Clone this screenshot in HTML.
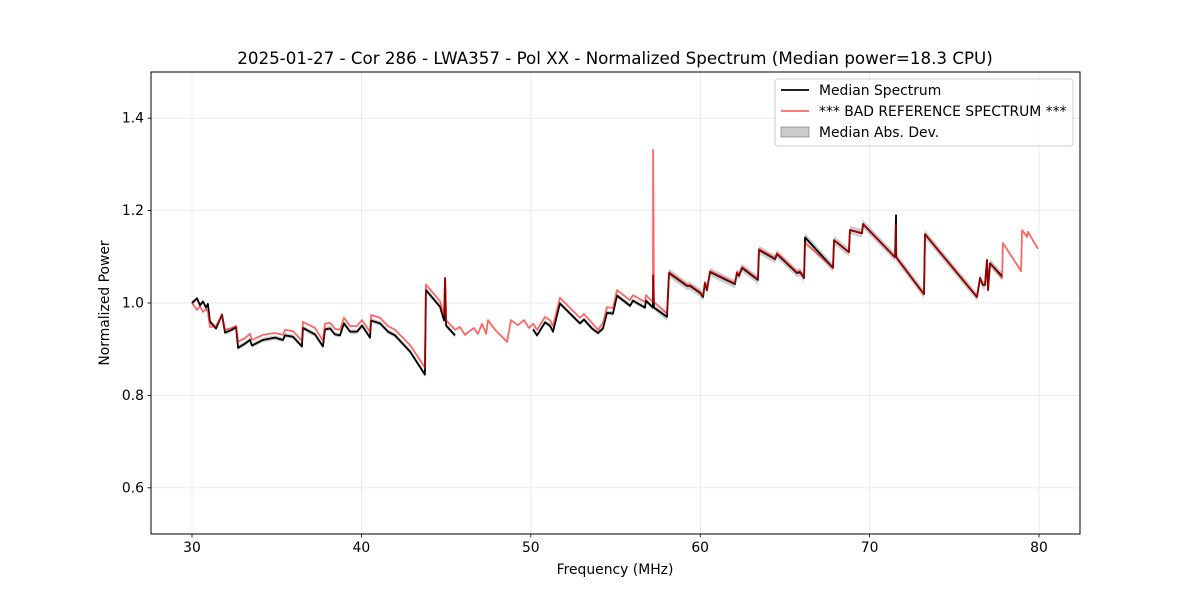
<!DOCTYPE html>
<html><head><meta charset="utf-8"><style>
body{margin:0;background:#fff;}
svg{display:block;font-family:"DejaVu Sans","Liberation Sans",sans-serif;}
</style></head><body>
<svg id="chart" width="1200" height="600" viewBox="0 0 1200 600" xmlns="http://www.w3.org/2000/svg">
<rect width="1200" height="600" fill="#fff"/>
<text x="615" y="64" font-size="16.7" text-anchor="middle" fill="#000">2025-01-27 - Cor 286 - LWA357 - Pol XX - Normalized Spectrum (Median power=18.3 CPU)</text>
<g id="grid"></g>
<g id="series"></g>
<rect x="151" y="72" width="929" height="462" fill="none" stroke="#000" stroke-width="1"/>
<g id="ticks"></g>
<text x="615" y="574" font-size="13.9" text-anchor="middle">Frequency (MHz)</text>
<text transform="translate(109,303) rotate(-90)" font-size="13.9" text-anchor="middle">Normalized Power</text>
<g>
<rect x="775" y="79" width="298" height="67" rx="3" fill="#fff" fill-opacity="0.85" stroke="#ccc"/>
<line x1="781" y1="90" x2="809" y2="90" stroke="#000" stroke-width="1.8"/>
<text x="819" y="95" font-size="13.9">Median Spectrum</text>
<line x1="781" y1="111" x2="809" y2="111" stroke="#f00" stroke-opacity="0.6" stroke-width="1.8"/>
<text x="819" y="116" font-size="13.9">*** BAD REFERENCE SPECTRUM ***</text>
<rect x="781" y="127" width="28" height="10" fill="#000" fill-opacity="0.2" stroke="#000" stroke-opacity="0.3"/>
<text x="819" y="137" font-size="13.9">Median Abs. Dev.</text>
</g>
</svg>
<script>
const xTicks = [30,40,50,60,70,80];
const yTicks = [0.6,0.8,1.0,1.2,1.4];
const yTickLabels = ["0.6","0.8","1.0","1.2","1.4"];
const freq = [30.00,30.30,30.47,30.65,30.83,30.94,31.06,31.42,31.77,31.95,
32.36,32.60,32.72,33.13,33.42,33.54,34.19,34.90,35.37,35.49,
35.96,36.49,36.55,37.26,37.73,37.85,38.15,38.44,38.74,38.97,
39.33,39.74,40.04,40.51,40.57,41.10,41.57,41.98,42.87,43.75,
43.81,44.64,44.88,44.94,45.00,45.53,45.82,46.12,46.41,46.65,
46.88,47.12,47.36,47.47,47.89,48.60,48.83,49.24,49.60,49.89,
50.13,50.37,50.84,51.13,51.31,51.72,52.90,53.14,53.61,53.97,
54.26,54.50,54.85,55.09,55.86,56.03,56.74,56.80,57.21,57.22,
57.27,58.04,58.16,59.22,59.40,59.99,60.17,60.28,60.40,60.58,
62.05,62.17,62.29,62.47,63.41,63.47,64.42,64.53,65.71,65.89,
66.13,66.19,67.84,67.90,68.78,68.84,69.55,69.61,71.50,71.56,
71.57,73.21,73.27,76.34,76.52,76.69,76.81,76.93,76.99,77.11,
77.82,77.87,78.94,79.00,79.29,79.35,79.94];
const refSpectrum = [1.000,0.985,0.993,0.981,0.987,0.981,0.948,0.950,0.974,0.942,
0.946,0.950,0.916,0.924,0.933,0.920,0.931,0.935,0.931,0.942,
0.939,0.918,0.959,0.946,0.918,0.955,0.957,0.944,0.942,0.968,
0.950,0.950,0.963,0.937,0.974,0.968,0.950,0.942,0.909,0.860,
1.040,1.004,0.974,1.054,0.963,0.942,0.948,0.931,0.940,0.946,
0.933,0.955,0.933,0.963,0.942,0.916,0.963,0.952,0.963,0.946,
0.955,0.942,0.970,0.963,0.950,1.011,0.968,0.976,0.957,0.942,
0.957,0.991,0.989,1.028,1.006,1.017,1.002,1.017,1.002,1.331,
1.002,0.978,1.067,1.039,1.039,1.024,1.015,1.045,1.030,1.069,
1.043,1.067,1.061,1.078,1.052,1.117,1.097,1.108,1.067,1.069,
1.056,1.130,1.076,1.136,1.110,1.158,1.151,1.171,1.099,1.169,
1.099,1.019,1.149,1.013,1.054,1.039,1.039,1.093,1.028,1.086,
1.054,1.130,1.069,1.158,1.143,1.154,1.117];
const medianSpectrum = [1.000,1.010,0.995,1.003,0.990,0.998,0.960,0.945,0.975,0.936,
0.942,0.948,0.903,0.912,0.920,0.908,0.920,0.925,0.920,0.930,
0.927,0.906,0.946,0.932,0.906,0.943,0.945,0.932,0.930,0.956,
0.938,0.938,0.951,0.925,0.962,0.956,0.938,0.930,0.895,0.845,
1.028,0.992,0.962,1.054,0.951,0.930,null,null,null,null,
null,null,null,null,null,null,null,null,null,null,
0.943,0.930,0.958,0.951,0.938,0.999,0.956,0.964,0.945,0.935,
0.945,0.979,0.977,1.016,0.994,1.005,0.990,1.005,0.990,1.060,
0.990,0.970,1.065,1.037,1.037,1.022,1.013,1.043,1.028,1.067,
1.041,1.065,1.059,1.076,1.050,1.115,1.095,1.106,1.065,1.067,
1.054,1.142,1.076,1.136,1.110,1.158,1.151,1.171,1.099,1.190,
1.099,1.019,1.149,1.013,1.054,1.039,1.039,1.093,1.028,1.086,
1.058,null,null,null,null,null,null];
const madWidth = [0.005, 0.009];

const NS="http://www.w3.org/2000/svg";
const L=151,R=1080,T=72,B=534, XMIN=27.58, XMAX=82.42, YMIN=0.5, YMAX=1.5;
const xs = f => L + (f-XMIN)/(XMAX-XMIN)*(R-L);
const ys = v => B - (v-YMIN)/(YMAX-YMIN)*(B-T);
function mk(tag, attrs, parent){const e=document.createElementNS(NS,tag);for(const k in attrs)e.setAttribute(k,attrs[k]);parent.appendChild(e);return e;}
const grid=document.getElementById('grid'), ticks=document.getElementById('ticks'), series=document.getElementById('series');
xTicks.forEach(t=>{
  const x=xs(t);
  const g=mk('line',{x1:x,x2:x,y1:T,y2:B,stroke:'#b0b0b0','stroke-opacity':0.3,'stroke-width':0.8},grid);
  
  
  const tk=mk('line',{x1:x,x2:x,y1:B,y2:B+3.5,stroke:'#000','stroke-width':0.8},ticks);
  
  
  const tl=mk('text',{x:x,y:B+18,'font-size':13.9,'text-anchor':'middle'},ticks);
  tl.textContent=String(t);
  
  
});
yTicks.forEach((t,i)=>{
  const y=ys(t);
  const g=mk('line',{x1:L,x2:R,y1:y,y2:y,stroke:'#b0b0b0','stroke-opacity':0.3,'stroke-width':0.8},grid);
  
  
  const tk=mk('line',{x1:L-3.5,x2:L,y1:y,y2:y,stroke:'#000','stroke-width':0.8},ticks);
  
  
  const tl=mk('text',{x:L-7,y:y+4.5,'font-size':13.9,'text-anchor':'end'},ticks);
  tl.textContent=yTickLabels[i];
  
  
});
const segs=[];let cur=[];
medianSpectrum.forEach((v,i)=>{ if(v===null){ if(cur.length)segs.push(cur); cur=[]; } else cur.push(i); });
if(cur.length)segs.push(cur);
segs.forEach(seg=>{
  const up=seg.map(i=>{const w=freq[i]<58?madWidth[0]:madWidth[1];return xs(freq[i])+','+ys(medianSpectrum[i]+w);});
  const dn=seg.slice().reverse().map(i=>{const w=freq[i]<58?madWidth[0]:madWidth[1];return xs(freq[i])+','+ys(medianSpectrum[i]-w);});
  const band=mk('polygon',{points:up.concat(dn).join(' '),fill:'#000','fill-opacity':0.2,stroke:'none'},series);
  
  
});
segs.forEach(seg=>{
  const p=mk('polyline',{points:seg.map(i=>xs(freq[i])+','+ys(medianSpectrum[i])).join(' '),fill:'none',stroke:'#000','stroke-width':1.8,'stroke-linejoin':'round'},series);
  
  
});
const rp=mk('polyline',{points:freq.map((f,i)=>xs(f)+','+ys(refSpectrum[i])).join(' '),fill:'none',stroke:'#f00','stroke-opacity':0.6,'stroke-width':1.8,'stroke-linejoin':'round'},series);


</script>
</body></html>
